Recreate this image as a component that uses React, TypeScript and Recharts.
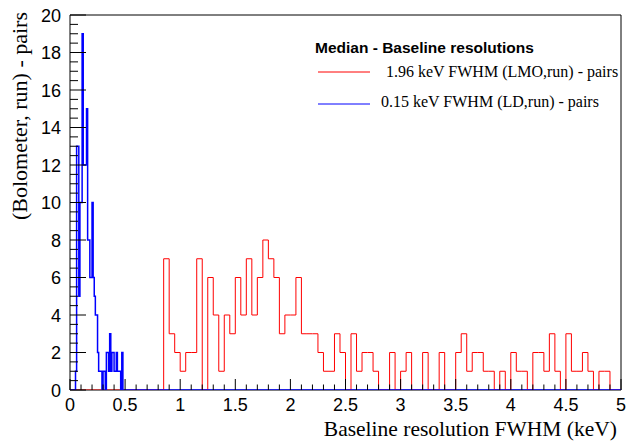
import React from "react";
import { ComposedChart, Line, XAxis, YAxis, ReferenceArea, Legend, Label } from "recharts";

// LMO histogram: 100 bins of 0.05 keV from 0 to 5
const lmoBinWidth = 0.05;
const lmoCounts = [
  0, 0, 0, 0, 0, 0, 0, 0, 0, 0,
  0, 0, 0, 0, 0, 0, 0, 7, 3, 2,
  1, 2, 2, 7, 0, 6, 4, 1, 4, 3,
  6, 4, 7, 4, 6, 8, 7, 6, 3, 4,
  4, 6, 3, 3, 3, 2, 1, 1, 3, 2,
  0, 3, 1, 2, 2, 1, 0, 0, 2, 0,
  1, 2, 0, 0, 2, 0, 0, 2, 0, 0,
  2, 3, 1, 2, 2, 1, 1, 0, 1, 0,
  2, 1, 1, 0, 2, 2, 1, 3, 1, 0,
  3, 1, 1, 2, 1, 0, 1, 1, 0, 0,
];

// LD histogram: bins of 0.01 keV from 0 to 0.5 (empty above)
const ldBinWidth = 0.01;
const ldCounts = [
  0, 0, 0, 0, 0, 1, 13, 13, 5, 10,
  10, 19, 12, 12, 12, 15, 8, 8, 6, 6,
  10, 6, 5, 4, 4, 2, 1, 1, 1, 0,
  1, 1, 0, 2, 2, 1, 3, 1, 2, 2,
  1, 1, 2, 1, 1, 1, 0, 2, 0, 0,
];

const xMax = 5;
const yMax = 20;

const xTicks = [
  0, 0.1, 0.2, 0.3, 0.4, 0.5, 0.6, 0.7, 0.8, 0.9,
  1, 1.1, 1.2, 1.3, 1.4, 1.5, 1.6, 1.7, 1.8, 1.9,
  2, 2.1, 2.2, 2.3, 2.4, 2.5, 2.6, 2.7, 2.8, 2.9,
  3, 3.1, 3.2, 3.3, 3.4, 3.5, 3.6, 3.7, 3.8, 3.9,
  4, 4.1, 4.2, 4.3, 4.4, 4.5, 4.6, 4.7, 4.8, 4.9, 5,
];
const yTicks = [
  0, 0.5, 1, 1.5, 2, 2.5, 3, 3.5, 4, 4.5, 5, 5.5, 6, 6.5, 7, 7.5, 8, 8.5, 9, 9.5,
  10, 10.5, 11, 11.5, 12, 12.5, 13, 13.5, 14, 14.5, 15, 15.5, 16, 16.5, 17, 17.5,
  18, 18.5, 19, 19.5, 20,
];

const lmoName = "1.96 keV FWHM (LMO,run) - pairs";
const ldName = "0.15 keV FWHM (LD,run) - pairs";
const legendTitle = "Median - Baseline resolutions";
const xTitle = "Baseline resolution FWHM (keV)";
const yTitle = "(Bolometer, run) - pairs";

const toSteps = (counts: number[], width: number) => {
  const pts = counts.map((c, i) => ({ x: +(i * width).toFixed(3), y: c }));
  pts.push({ x: xMax, y: counts[counts.length - 1] });
  return pts;
};

const lmoPoints = toSteps(lmoCounts, lmoBinWidth);
const ldPoints = toSteps(ldCounts, ldBinWidth);

const serif = '"Liberation Serif", "Times New Roman", serif';
const sans = '"Liberation Sans", Arial, sans-serif';

const XTick = (props: any) => {
  const { x, y, payload } = props;
  const v = payload.value;
  const major = Math.abs(v * 2 - Math.round(v * 2)) < 1e-6;
  return (
    <g>
      <line x1={x} x2={x} y1={y} y2={y - (major ? 11 : 5.5)} stroke="#000" strokeWidth={1} />
      {major && (
        <text x={x} y={y + 21} textAnchor="middle" style={{ fontFamily: sans, fontSize: 18 }} fill="#000">
          {String(v)}
        </text>
      )}
    </g>
  );
};

const YTick = (props: any) => {
  const { x, y, payload } = props;
  const v = payload.value;
  const major = v % 2 === 0;
  return (
    <g>
      <line x1={x} x2={x + (major ? 16 : 8)} y1={y} y2={y} stroke="#000" strokeWidth={1} />
      {major && (
        <text x={x - 9} y={y + 6.5} textAnchor="end" style={{ fontFamily: sans, fontSize: 18 }} fill="#000">
          {String(v)}
        </text>
      )}
    </g>
  );
};

const legendRows: Record<string, { line: number; base: number; tx: number }> = {
  [lmoName]: { line: 44, base: 49, tx: 76 },
  [ldName]: { line: 76, base: 79, tx: 71 },
};

const renderLegend = (props: any) => {
  const payload = props.payload || [];
  return (
    <svg width={312} height={90}>
      <text x={5} y={25} style={{ fontFamily: sans, fontWeight: "bold", fontSize: 15.5 }} fill="#000">
        {legendTitle}
      </text>
      {payload.map((p: any) => {
        const r = legendRows[p.value];
        if (!r) return null;
        return (
          <g key={p.value}>
            <line x1={8} x2={60} y1={r.line} y2={r.line} stroke={p.color} strokeWidth={1} />
            <text x={r.tx} y={r.base} style={{ fontFamily: serif, fontSize: 16 }} fill="#000">
              {p.value}
            </text>
          </g>
        );
      })}
    </svg>
  );
};

export default function App() {
  return (
    <div style={{ position: "absolute", left: 0, top: 0, background: "#fff" }}>
      <ComposedChart width={627} height={442} margin={{ top: 15, right: 6, bottom: 0, left: 0 }}>
        <XAxis
          type="number"
          dataKey="x"
          domain={[0, xMax]}
          allowDataOverflow
          ticks={xTicks}
          interval={0}
          tickSize={0}
          tickMargin={0}
          axisLine={false}
          tickLine={false}
          tick={<XTick />}
          height={52}
        >
          <Label
            content={(p: any) => {
              const vb = p.viewBox;
              return (
                <text x={vb.x + vb.width - 4} y={vb.y + 46} textAnchor="end" style={{ fontFamily: serif, fontSize: 21.5 }} fill="#000">
                  {xTitle}
                </text>
              );
            }}
          />
        </XAxis>
        <YAxis
          type="number"
          domain={[0, yMax]}
          allowDataOverflow
          ticks={yTicks}
          interval={0}
          tickSize={0}
          tickMargin={0}
          axisLine={false}
          tickLine={false}
          tick={<YTick />}
          width={70}
        >
          <Label
            content={(p: any) => {
              const vb = p.viewBox;
              const tx = 27;
              const ty = vb.y - 3;
              return (
                <text x={tx} y={ty} transform={`rotate(-90 ${tx} ${ty})`} textAnchor="end" style={{ fontFamily: serif, fontSize: 22 }} fill="#000">
                  {yTitle}
                </text>
              );
            }}
          />
        </YAxis>
        <ReferenceArea x1={0} x2={xMax} y1={0} y2={yMax} fill="none" stroke="#000" strokeWidth={1} fillOpacity={0} />
        <Line
          data={lmoPoints}
          dataKey="y"
          name={lmoName}
          type="stepAfter"
          stroke="#ff0000"
          strokeWidth={1}
          dot={false}
          activeDot={false}
          isAnimationActive={false}
        />
        <Line
          data={ldPoints}
          dataKey="y"
          name={ldName}
          type="stepAfter"
          stroke="#0000ff"
          strokeWidth={1.5}
          dot={false}
          activeDot={false}
          isAnimationActive={false}
        />
        <Legend
          layout="vertical"
          align="center"
          verticalAlign="middle"
          content={renderLegend}
          wrapperStyle={{ left: 310, top: 28, width: 312, height: 90 }}
        />
      </ComposedChart>
    </div>
  );
}
